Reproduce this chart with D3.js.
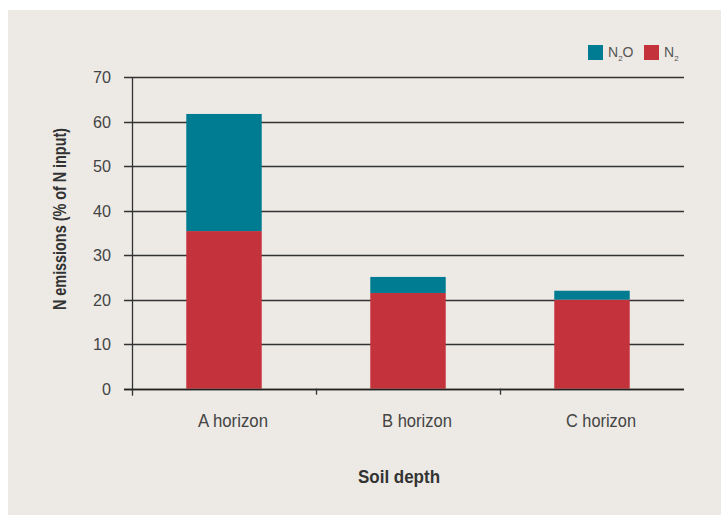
<!DOCTYPE html>
<html><head><meta charset="utf-8">
<script src="https://cdn.jsdelivr.net/npm/d3@7"></script>
<style>body{margin:0;background:#fff}svg{display:block}</style>
</head><body><svg id="c" width="721" height="516"></svg>
<script>
const categories = ["A horizon", "B horizon", "C horizon"];
const n2Values = [35.4, 21.5, 20.0];
const n2oValues = [26.3, 3.6, 2.0];
const yTicks = [0, 10, 20, 30, 40, 50, 60, 70];
const seriesNames = ["N2", "N2O"];
const colors = {N2: "#c4323c", N2O: "#007c92"};

const svg = d3.select("#c");
const font = "'Liberation Sans',Arial,sans-serif";
svg.append("rect").attr("x", 8).attr("y", 10).attr("width", 713).attr("height", 505).attr("fill", "#edeae5");

const x0 = 132, x1 = 684, yTop = 77, yBot = 388.7;
const x = d3.scaleBand().domain(categories).range([x0, x1]).paddingInner(0.59).paddingOuter(0.295);
const y = d3.scaleLinear().domain([0, 70]).range([yBot, yTop]);

const rows = categories.map((c, i) => ({cat: c, N2: n2Values[i], N2O: n2oValues[i]}));
const stacked = d3.stack().keys(seriesNames)(rows);

// gridlines
svg.append("g").selectAll("line").data(yTicks).join("line")
  .attr("x1", 124).attr("x2", x1).attr("y1", d => Math.round(y(d)) + 0.5).attr("y2", d => Math.round(y(d)) + 0.5)
  .attr("stroke", "#333").attr("stroke-width", 1.3);

// bars
svg.append("g").selectAll("g").data(stacked).join("g").attr("fill", d => colors[d.key])
  .selectAll("rect").data(d => d).join("rect")
  .attr("x", d => x(d.data.cat)).attr("width", x.bandwidth())
  .attr("y", d => y(d[1])).attr("height", d => y(d[0]) - y(d[1]));

// baseline & y axis line
svg.append("line").attr("x1", 124).attr("x2", x1).attr("y1", Math.round(yBot) + 0.5).attr("y2", Math.round(yBot) + 0.5).attr("stroke", "#222").attr("stroke-width", 1.3);
svg.append("line").attr("x1", x0 + 0.5).attr("x2", x0 + 0.5).attr("y1", yTop).attr("y2", yBot + 7).attr("stroke", "#333").attr("stroke-width", 1.3);

// category tick marks at band boundaries
const bounds = categories.slice(1).map(c => x(c) - x.step() * x.paddingInner() / 2);
svg.append("g").selectAll("line").data(bounds).join("line")
  .attr("x1", d => Math.round(d) + 0.5).attr("x2", d => Math.round(d) + 0.5)
  .attr("y1", yBot).attr("y2", yBot + 6).attr("stroke", "#333").attr("stroke-width", 1.3);

// y tick labels
svg.append("g").selectAll("text").data(yTicks).join("text")
  .attr("x", 111).attr("y", d => y(d) + 6).attr("text-anchor", "end")
  .attr("font-family", font).attr("font-size", 17).attr("fill", "#444")
  .attr("textLength", d => String(d).length * 9).attr("lengthAdjust", "spacingAndGlyphs").text(d => d);

// x labels
svg.append("g").selectAll("text").data(categories).join("text")
  .attr("x", d => x(d) + x.bandwidth() / 2 + 9).attr("y", 427).attr("text-anchor", "middle")
  .attr("font-family", font).attr("font-size", 19).attr("fill", "#444")
  .attr("textLength", 70).attr("lengthAdjust", "spacingAndGlyphs").text(d => d);

// axis titles
svg.append("text").attr("x", 399).attr("y", 483).attr("text-anchor", "middle")
  .attr("font-family", font).attr("font-size", 19).attr("font-weight", "bold").attr("fill", "#333")
  .attr("textLength", 82).attr("lengthAdjust", "spacingAndGlyphs").text("Soil depth");
svg.append("text").attr("transform", "translate(66,219) rotate(-90)").attr("text-anchor", "middle")
  .attr("font-family", font).attr("font-size", 18).attr("font-weight", "bold").attr("fill", "#333")
  .attr("textLength", 182).attr("lengthAdjust", "spacingAndGlyphs").text("N emissions (% of N input)");

// legend
const leg = [{k: "N2O", x: 588, base: "N", sub: "2", tail: "O"}, {k: "N2", x: 644, base: "N", sub: "2", tail: ""}];
leg.forEach(l => {
  svg.append("rect").attr("x", l.x).attr("y", 45).attr("width", 15).attr("height", 15).attr("fill", colors[l.k]);
  const t = svg.append("text").attr("x", l.x + 20).attr("y", 57).attr("font-family", font).attr("font-size", 14).attr("fill", "#555");
  t.append("tspan").text(l.base);
  t.append("tspan").attr("font-size", 8).attr("dy", 4).text(l.sub);
  if (l.tail) t.append("tspan").attr("dy", -4).text(l.tail);
});
</script></body></html>
